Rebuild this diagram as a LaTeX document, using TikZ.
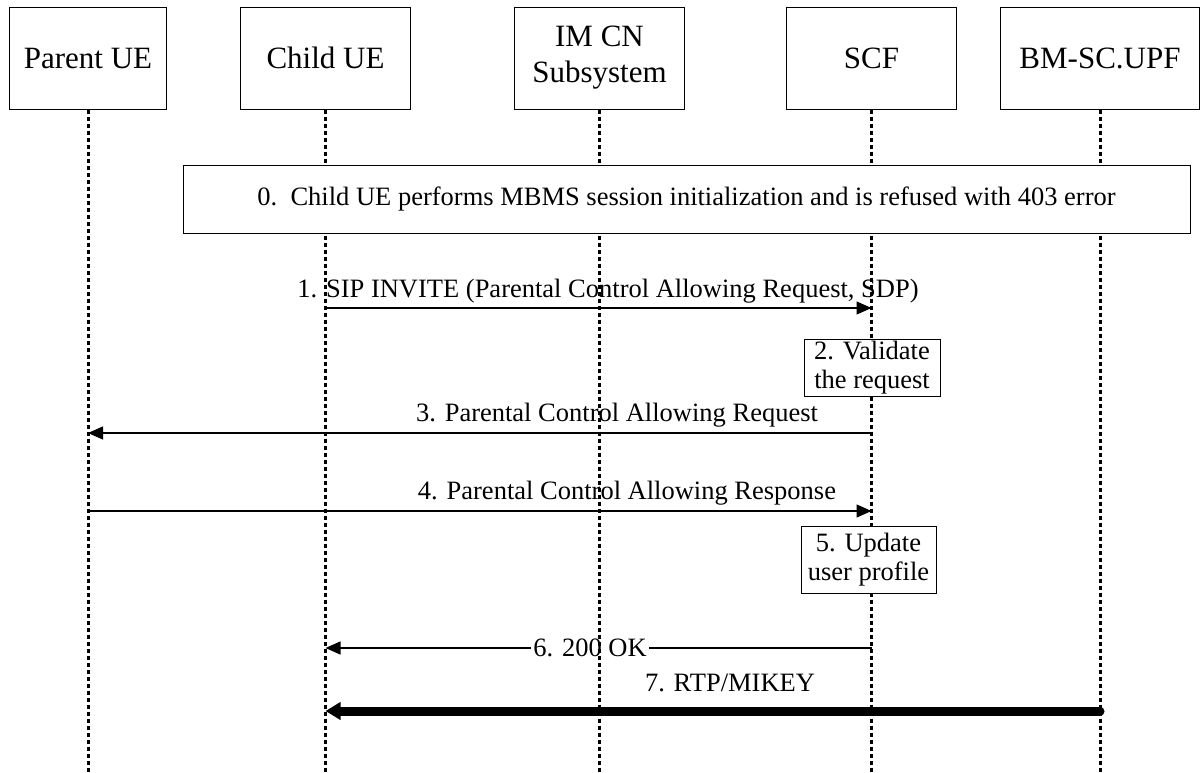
\documentclass[tikz,border=0pt]{standalone}
\usepackage{fontspec}
\setmainfont{Liberation Serif}
\usetikzlibrary{arrows.meta}
\begin{document}
\begin{tikzpicture}[x=1pt,y=-1pt,
  hdr/.style={draw, line width=1pt, fill=white, inner sep=0pt, align=center, minimum height=102pt, font=\fontsize{31}{36}\selectfont},
  actbox/.style={draw, line width=1pt, fill=white, inner sep=0pt, align=center, font=\fontsize{26.5}{28.5}\selectfont},
  lbl/.style={inner sep=0pt, font=\fontsize{26.5}{30}\selectfont},
  life/.style={line width=3pt, dash pattern=on 4.5pt off 2.5pt},
  msg/.style={line width=1.3pt, -{Triangle[length=15pt,width=13pt]}},
  bigmsg/.style={line width=9pt, line cap=round, -{Triangle[length=15pt,width=17pt]}}
]
\useasboundingbox (0,0) rectangle (1201,772);
% headers
\node[hdr, minimum width=157pt] (pue) at (88,58) {Parent UE};
\node[hdr, minimum width=170pt] (cue) at (325.5,58) {Child UE};
\node[hdr, minimum width=170pt] (ims) at (599.5,58) {IM CN\\Subsystem};
\node[hdr, minimum width=170pt] (scf) at (871.5,58) {SCF};
\node[hdr, minimum width=199pt] (bm) at (1100,58) {BM-SC.UPF};
\coordinate (bot) at (0,772);
% message rows
\coordinate (y1) at (0,308);
\coordinate (y3) at (0,433);
\coordinate (y4) at (0,511);
\coordinate (y6) at (0,648);
\coordinate (y7) at (0,711);
% messages
\draw[msg] (cue |- y1) -- (scf |- y1);
\node[lbl] (l1) at (608,291) {1. SIP INVITE (Parental Control Allowing Request, SDP)};
\draw[msg] (scf |- y3) -- (pue |- y3);
\node[lbl] (l3) at (617,415) {3. Parental Control Allowing Request};
\draw[msg] (pue |- y4) -- (scf |- y4);
\node[lbl] (l4) at (627,493) {4. Parental Control Allowing Response};
\draw[msg] (scf |- y6) -- (cue |- y6);
\node[lbl, fill=white, inner xsep=2pt, inner ysep=0pt] (l6) at (590,648) {6. 200 OK};
\draw[bigmsg] (bm |- y7) -- (cue |- y7);
\node[lbl] (l7) at (730,683) {7. RTP/MIKEY};
% lifelines
\foreach \n in {pue,cue,ims,scf,bm}
  \draw[life] (\n.south) -- (\n.south |- bot);
% action boxes
\node[actbox, minimum width=1007pt, minimum height=68pt] (b0) at (686.5,199)
  {0.\ \ Child UE performs MBMS session initialization and is refused with 403 error};
\node[actbox, minimum width=136pt, minimum height=57pt] (b2) at (872,367.5) {2. Validate\\the request};
\node[actbox, minimum width=135pt, minimum height=67pt] (b5) at (868.5,559.5) {5. Update\\user profile};
\end{tikzpicture}
\end{document}
